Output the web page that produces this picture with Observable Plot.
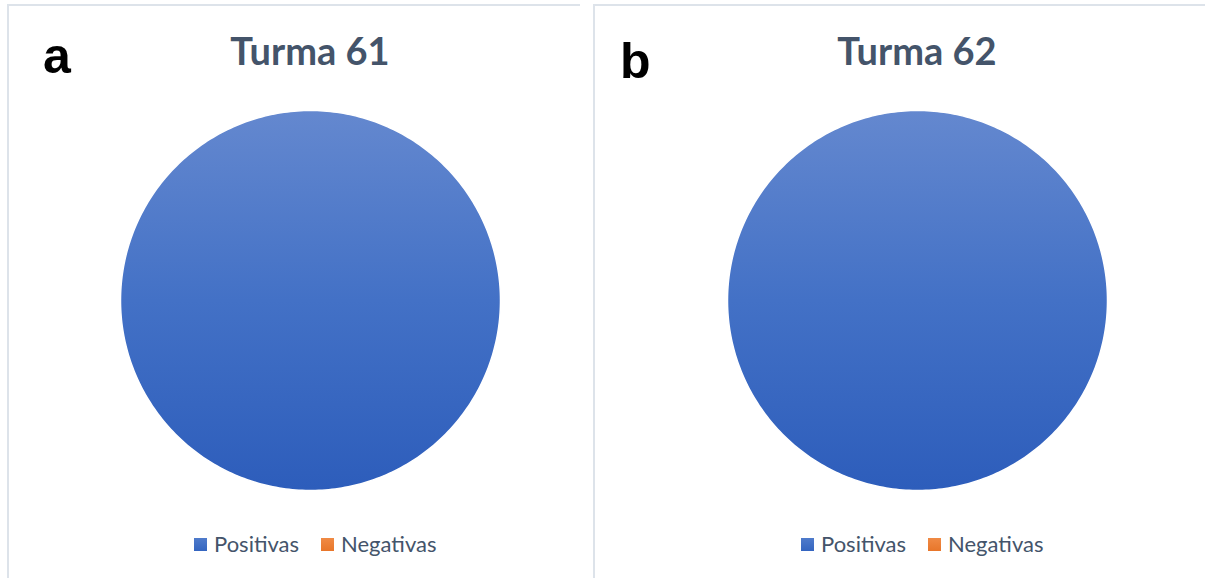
<!DOCTYPE html>
<html><head><meta charset="utf-8">
<script src="https://cdn.jsdelivr.net/npm/d3@7"></script>
<script src="https://cdn.jsdelivr.net/npm/@observablehq/plot@0.6"></script>
<style>
html,body{margin:0;padding:0;background:#fff;}
body{width:1205px;height:578px;overflow:hidden;position:relative;font-family:Lato,"Open Sans",sans-serif;}
.panel{position:absolute;border-left:2px solid #dde3ea;border-top:2px solid #dde3ea;height:620px;box-sizing:border-box;}
.tag{position:absolute;font-family:"Liberation Sans",Arial,sans-serif;font-weight:bold;font-size:50px;line-height:50px;color:#000;}
.title{position:absolute;width:400px;text-align:center;font-weight:bold;font-size:38px;line-height:38px;color:#44546a;}
.legend{position:absolute;display:flex;align-items:center;font-size:22px;line-height:22px;color:#44546a;}
.legend .item{display:flex;align-items:center;margin-right:22px;}
.legend .sw{width:13px;height:13px;margin-right:7px;}
.pie{position:absolute;}
</style></head><body>
<script>
// ---- data ----
const panelTags = ["a", "b"];
const panelTitles = ["Turma 61", "Turma 62"];
const categories = ["Positivas", "Negativas"];
const valuesTurma61 = [100, 0];
const valuesTurma62 = [100, 0];
const categoryColors = ["#4472c4", "#ed7d31"];

const panelValues = [valuesTurma61, valuesTurma62];
const layout = [
  {left: 7, cx: 310, width: 573, legendLeft: 194, tagTop: 31},
  {left: 593, cx: 917, width: 612, legendLeft: 801, tagTop: 36}
];
const R = 190, PAD = 2;

panelTags.forEach((tag, i) => {
  const L = layout[i];
  const panel = document.createElement("div");
  panel.className = "panel";
  panel.style.left = L.left + "px";
  panel.style.top = "4px";
  panel.style.width = L.width + "px";
  document.body.appendChild(panel);

  const t = document.createElement("div");
  t.className = "tag";
  t.textContent = tag;
  t.style.left = (L.left + (i === 0 ? 36 : 27)) + "px";
  t.style.top = L.tagTop + "px";
  document.body.appendChild(t);

  const title = document.createElement("div");
  title.className = "title";
  title.textContent = panelTitles[i];
  title.style.left = (L.cx - 200) + "px";
  title.style.top = "31px";
  document.body.appendChild(title);

  // pie geometry from data
  const gradId = "grad" + i;
  const fills = categories.map((c, k) => k === 0 ? `url(#${gradId})` : categoryColors[k]);
  const arcs = d3.pie().sort(null).value(d => d.value)(
    categories.map((c, k) => ({name: c, value: panelValues[i][k]}))
  );
  const pts = [];
  arcs.forEach(a => {
    const span = a.endAngle - a.startAngle;
    if (span <= 0) return;
    const full = span >= 2 * Math.PI - 1e-9;
    const n = Math.max(2, Math.ceil(span / (Math.PI / 180)));
    if (!full) pts.push({name: a.data.name, x: 0, y: 0});
    for (let s = 0; s <= n; s++) {
      const ang = a.startAngle + span * s / n;
      pts.push({name: a.data.name, x: Math.sin(ang), y: Math.cos(ang)});
    }
  });

  const defs = () => {
    const d = d3.create("svg:defs");
    const g = d.append("linearGradient").attr("id", gradId)
      .attr("x1", 0).attr("y1", 0).attr("x2", 0).attr("y2", 1);
    g.append("stop").attr("offset", "0%").attr("stop-color", "#6488cf");
    g.append("stop").attr("offset", "50%").attr("stop-color", "#4371c6");
    g.append("stop").attr("offset", "100%").attr("stop-color", "#2d5dbb");
    return d.node();
  };

  const size = 2 * R + 2 * PAD;
  const chart = Plot.plot({
    width: size, height: size,
    margin: PAD,
    x: {domain: [-1, 1], axis: null},
    y: {domain: [-1, 1], axis: null},
    color: {domain: categories, range: fills},
    marks: [
      defs,
      Plot.line(pts, {x: "x", y: "y", z: "name", fill: "name", stroke: "white", strokeWidth: 1.5, curve: "linear-closed"})
    ]
  });
  chart.classList.add("pie");
  chart.style.left = (L.cx - R - PAD) + "px";
  chart.style.top = (300 - R - PAD) + "px";
  document.body.appendChild(chart);

  const legend = document.createElement("div");
  legend.className = "legend";
  legend.style.left = L.legendLeft + "px";
  legend.style.top = "533px";
  categories.forEach((c, k) => {
    const it = document.createElement("div");
    it.className = "item";
    const sw = document.createElement("div");
    sw.className = "sw";
    sw.style.background = k === 0 ? "linear-gradient(#4f7bcb,#3465c0)" : "linear-gradient(#f08a45,#e8762a)";
    const tx = document.createElement("span");
    tx.textContent = c;
    it.appendChild(sw); it.appendChild(tx);
    legend.appendChild(it);
  });
  document.body.appendChild(legend);
});
</script>
</body></html>
